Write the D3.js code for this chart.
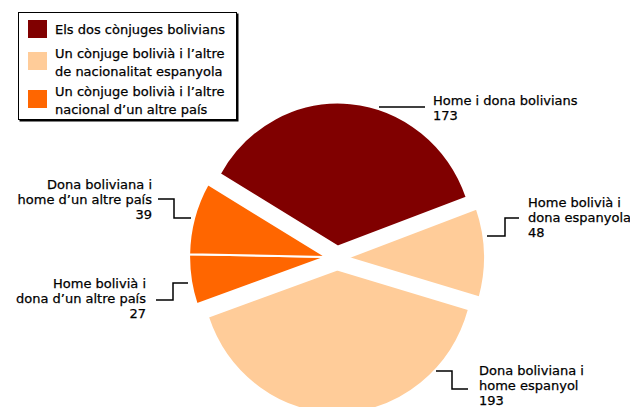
<!DOCTYPE html>
<html>
<head>
<meta charset="utf-8">
<script src="https://cdn.jsdelivr.net/npm/d3@7"></script>
<style>
  body { margin: 0; background: #fff; }
  text { font-family: "DejaVu Sans", Verdana, sans-serif; font-size: 13px; fill: #000; stroke: #000; stroke-width: 0.25; }
</style>
</head>
<body>
<script>
'use strict';

// slices, clockwise from the top-left
const sliceNames = [
  ["Home i dona bolivians"],
  ["Home bolivià i", "dona espanyola"],
  ["Dona boliviana i", "home espanyol"],
  ["Home bolivià i", "dona d’un altre país"],
  ["Dona boliviana i", "home d’un altre país"]
];
const sliceValues = [173, 48, 193, 27, 39];
const sliceGroup = [0, 1, 1, 2, 2];

// legend entries
const groupNames = [
  ["Els dos cònjuges bolivians"],
  ["Un cònjuge bolivià i l’altre", "de nacionalitat espanyola"],
  ["Un cònjuge bolivià i l’altre", "nacional d’un altre país"]
];
const groupColors = ["#800000", "#FFCC99", "#FF6600"];

// the two "altre país" slices are pulled out as one piece
const pulledTogether = [3, 4];

(function () {
  const width = 630, height = 407;
  const cx = 337, cy = 258;
  const r = 144;
  const sx = 136 / 143;   // the picture is a little squeezed sideways
  const pull = 11.5;
  const deg = Math.PI / 180;

  const svg = d3.select('body').append('svg')
    .attr('width', width)
    .attr('height', height);

  const start = -59.7 * deg;
  const pie = d3.pie().sort(null).startAngle(start).endAngle(start + 2 * Math.PI);
  const arcs = pie(sliceValues);
  const arc = d3.arc().innerRadius(0).outerRadius(r);

  // direction each slice is pulled out in
  const jointMid = (arcs[pulledTogether[0]].startAngle + arcs[pulledTogether[pulledTogether.length - 1]].endAngle) / 2;
  function pullAngle(d, i) {
    return pulledTogether.includes(i) ? jointMid : (d.startAngle + d.endAngle) / 2;
  }

  const pieG = svg.append('g')
    .attr('transform', `translate(${cx},${cy}) scale(${sx},1)`);

  pieG.selectAll('path')
    .data(arcs)
    .enter()
    .append('path')
    .attr('d', arc)
    .attr('transform', (d, i) => {
      const a = pullAngle(d, i);
      return `translate(${Math.sin(a) * pull},${-Math.cos(a) * pull})`;
    })
    .attr('fill', (d, i) => groupColors[sliceGroup[i]])
    .attr('stroke', '#fff')
    .attr('stroke-width', 2);

  // data labels: text anchor and leader line, relative to the pie centre
  const labelLayout = [
    { x: 96, y: -153, anchor: 'start', line: [[42, -151], [88, -151]] },
    { x: 191, y: -51, anchor: 'start', line: [[150, -22], [168, -22], [168, -40], [182, -40]] },
    { x: 142, y: 117, anchor: 'start', line: [[99, 113], [115, 113], [115, 131], [131, 131]] },
    { x: -191, y: 30, anchor: 'end', line: [[-149, 25], [-164, 25], [-164, 42], [-181, 42]] },
    { x: -185, y: -69, anchor: 'end', line: [[-146, -40], [-163, -40], [-163, -59], [-179, -59]] }
  ];
  const lineH = 15;

  const labels = svg.append('g').attr('transform', `translate(${cx},${cy})`);
  labelLayout.forEach((lay, i) => {
    labels.append('path')
      .attr('d', d3.line()(lay.line))
      .attr('fill', 'none')
      .attr('stroke', '#000')
      .attr('stroke-width', 1.5);
    const t = labels.append('text')
      .attr('x', lay.x)
      .attr('y', lay.y)
      .attr('text-anchor', lay.anchor);
    sliceNames[i].concat([String(sliceValues[i])]).forEach((s, k) => {
      t.append('tspan').attr('x', lay.x).attr('dy', k === 0 ? 0 : lineH).text(s);
    });
  });

  // legend
  const legend = svg.append('g');
  legend.append('rect')
    .attr('x', 19.5).attr('y', 13.5).attr('width', 219).attr('height', 108)
    .attr('fill', '#000');
  legend.append('rect')
    .attr('x', 18.5).attr('y', 12.5).attr('width', 218).attr('height', 107)
    .attr('fill', '#fff').attr('stroke', '#000').attr('stroke-width', 1);

  const swatchY = [20, 52, 90];
  groupNames.forEach((lines, i) => {
    legend.append('rect')
      .attr('x', 28).attr('y', swatchY[i])
      .attr('width', 19).attr('height', 18)
      .attr('fill', groupColors[i]);
    const t = legend.append('text')
      .attr('x', 55)
      .attr('y', lines.length === 1 ? swatchY[i] + 14 : swatchY[i] + 6);
    lines.forEach((s, k) => {
      t.append('tspan').attr('x', 55).attr('dy', k === 0 ? 0 : 18).text(s);
    });
  });
})();
</script>
</body>
</html>
